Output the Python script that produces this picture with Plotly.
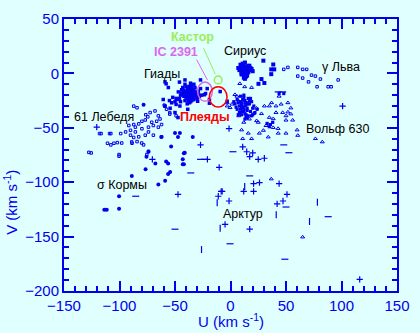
import plotly.graph_objects as go

# ---------------- data (U, V in km/s) ----------------
hyades_u = [-37,-35,-39,-33,-41,-36,-38,-34,-40,-32,-43,-36,-30,-38,-35,-44,-31,-39,-37,-42,
            -34,-36,-40,-33,-29,-45,-38,-35,-41,-37,-32,-46,-36,-39,-34,-43,-31,-37,-40,-35,
            -28,-48,-38,-33,-42,-36,-30,-44,-39,-35,-50,-34,-41,-37,-27,-47,-38,-32,-36,-40,
            -45,-33,-52,-29,-39,-43,-35,-31,-37,-41,-55,-53,-49,-26,-46,-41,-27,
            -59,-56,-60.6,-54.4,-45.6,-38.5,-29.6,-19,-3,-58,-59,-49,-47.3,-50,
            -21,-23.5,-9.3,-22.5,-19]
hyades_v = [-18,-16,-20,-15,-17,-22,-14,-19,-23,-17,-19,-12,-18,-25,-21,-15,-22,-17,-13,-21,
            -24,-16,-18,-20,-16,-20,-22,-11,-25,-19,-13,-23,-26,-15,-20,-14,-19,-23,-12,-17,
            -21,-24,-18,-10,-16,-20,-23,-18,-21,-14,-26,-22,-10,-27,-14,-17,-15,-18,-9,-21,
            -26,-24,-22,-19,-28,-13,-25,-20,-12,-18,-25,-27,-23,-20,-8,-6,-6,
            -7.8,-13,-24,-32,-30,-33,-25.6,-27.4,-25.6,-9.6,-30,-28.5,-40.6,-36,
            -14,-19.6,-16.7,-18.5,-24]

sirius_u = [13,11,15,9,17,12,14,10,16,8,18,13,11,15,12,19,7,14,10,16,13,17,9,12,15,11,20,14,13,10,
            27.9,30.5,36.7,39.4,25.2,38.5,29.6,36.7]
sirius_v = [4,6,2,5,3,8,0,1,7,3,5,-1,9,-2,2,4,5,-3,-1,1,10,7,8,-4,5,3,2,6,-5,0,
            -5.2,-8.8,-0.7,3.7,-9.6,8.2,11.7,3.7]

central_u = [10,13,8,15,12,17,6,11,14,9,19,13,7,16,11,21,4,14,10,18,12,15,8,20,13,11,16,5,9,14,
             22,12,17,10,7,15,13,19,11,24,3,16,9,14,12,18,10,6,20,13,33,36,38,35,43.8,48]
central_v = [-27,-25,-30,-32,-22,-28,-24,-35,-29,-33,-26,-37,-27,-23,-31,-30,-28,-40,-38,-35,
             -20,-34,-36,-32,-42,-24,-39,-31,-21,-27,-36,-33,-25,-29,-38,-41,-30,-39,-35,-33,
             -26,-28,-26,-38,-34,-23,-31,-33,-38,-27,-46,-47,-45,-49,-18.5,-18.5]

tri_u = [8.4,12.8,19,5.8,1.3,-3,7.5,12,20.8,27.9,35,41,47,51.7,50,38.5,32,43.8,37,41,30.5,23.5,
         29.6,38.5,42.9,50,43,10,16,11,19,25,23.5,17,7.5,14.6,60.6,60,76.5,82.7,-3,-0.4,4,45.6,
         50,54.4,54.4,56,51.7,34,26,35,36.7,65]
tri_v = [-9.4,-12.3,-13,-21,-28.3,-30,-39,-45,-37,-37,-30,-36,-36,-35.5,-43,-41.7,-48,-21,-27,-30,
         -30,-43.5,-52.4,-49.8,-50.7,-55,-55,-52,-55,-60,-60,-45,-32,-42,-25.6,-27,-57,-52,-60,-63,
         -27,-31.5,-19.5,-28.3,-39,-37.3,-31.8,-43,-27,-58.5,-55,-40.5,-97,-150.4]

open_u = [-87.2,-84.2,-59.7,-57.6,-54.7,-76.3,-74.5,-72.4,-68,-65,-63.5,-66.5,-71,-76.8,-79.8,-82.7,
          -87.2,-91.6,-85.7,-79.8,-73.9,-69.5,-65,-62.1,-90.1,-94.5,-98.9,-85.7,-73.9,-76.8,-82.7,
          -87.2,-90.1,-107.8,-116.6,-110.8,-107.8,-101.9,-88.7,-84.2,-78.3,-73.9,-75.4,-100.4,-125.5,
          -118,-109,-105,-98,-127.6,-100.4,-89,-80,-69.5,-62,-59.1,-54.7,-49,
          60.6,65,68.6,60.6,65,73,76.5,81,70.3,78,88,90.7,97,51.7,48]
open_v = [-30.1,-31.6,-29.2,-33,-37.4,-38,-39.9,-36,-34.5,-39,-41.9,-44,-44.9,-42.8,-44,-46.4,
          -47,-47.9,-49.4,-50.9,-49.4,-47.9,-49.4,-47,-52.3,-53.8,-55.3,-53.8,-53.8,-56.8,-58.3,
          -58.9,-56.8,-55.3,-55.3,-64.2,-65.7,-63.6,-64.2,-62.7,-65.7,-71.6,-74.6,-74.6,-73.1,
          -55.3,-55.3,-64.2,-64,-72.6,-76.1,-63,-64,-56.8,-58.3,-30.1,-36,-39,
          5.5,3.7,3.7,-2.5,-4.3,-1.6,-2.5,-5.2,-7.8,-12.3,-12.3,-12.3,-6,5.5,3.7]

bold_u = [-78.3,-50,-45.6,-34,-62.4,-53.5,-42,-73.9,-75.7,-56.2,-54.4,-42,-76.5,-88.9,-56.2,
          -47.3,-67.7,-58,-43,-43,-58.9,-65,-100.4,-100.4,-113.7,-41.2,-111.5]
bold_v = [-28.8,-54.8,-54.8,-58.4,-58.4,-67.3,-73.4,-72.1,-76.5,-82.7,-90.7,-83.5,-88,-94.2,-92.4,
          -58.4,-82.7,-81,-79,-83.5,-98.6,-102.2,-112.9,-124.5,-125.4,-72.9,-125.4]

plus_u = [-70.4,-47.3,-27,-20.8,-10.2,11,17.3,11.9,20.8,-11,-8.4,-1.3,-4.9,17.3,20.8,26.1,43.8,
          -7.5,50.9,42,47.3,116.4,101,-1.3,20,25,30.5,14.6,-120.5]
plus_v = [-79,-111.1,-65.7,-79,-86.3,-67.5,-76.5,-108.4,-108.4,-112.9,-108.4,-117.3,-138.7,-143.2,
          -101.3,-100.4,-101.3,-108.4,-111.1,-120,-117.3,-189.4,-30.1,-50.8,-73,-79,-78,-72,-49.4]

dash_u = [-35.8,-27,2.2,17.3,-0.4,-50,50,88,49,48,52.6,-23.5,-85.4,43,47]
dash_v = [-91.5,-79,-72,-94.2,-156.6,-143.2,-122.8,-131.7,-170.8,-65.7,-72.9,-79,-112.9,-17,-17]

vbar_u = [12.8,-12,-9.3,78.3,41.2,71.2,-26.1]
vbar_v = [-104,-119,-142.3,-118.4,-130,-136.1,-161.9]

labels = ["Гиады", "61 Лебедя", "Сириус", "γ Льва", "Вольф 630", "σ Кормы", "Арктур"]
label_u = [-61.5, -113.7, 12.8, 99.6, 96, -97.8, 11]
label_v = [-0.7, -39.9, 20.6, 5.5, -51.4, -102.2, -128.9]

cluster_labels = ["Кастор", "IC 2391", "Плеяды"]
cluster_u = [-34, -49, -22.6]
cluster_v = [33.6, 19.8, -39.9]

x_ticks = [-150, -100, -50, 0, 50, 100, 150]
y_ticks = [-200, -150, -100, -50, 0, 50]

# ---------------- figure ----------------
BLUE = "#0000ee"
BG = "#e0ffff"
GREEN = "#99ee55"
VIOLET = "#dd66ee"
RED = "#ff0000"

fig = go.Figure()

def add(u, v, symbol, size, lw=1, color=BLUE):
    fig.add_trace(go.Scatter(x=u, y=v, mode="markers",
                             marker=dict(symbol=symbol, size=size, color=color,
                                         line=dict(width=lw, color=color)),
                             showlegend=False, hoverinfo="skip"))

add(hyades_u, hyades_v, "square", 3.5, 0)
add(sirius_u, sirius_v, "square", 4, 0)
add(central_u, central_v, "square", 3.2, 0)
add(tri_u, tri_v, "triangle-up-open", 3.5, 1)
add(open_u, open_v, "square-open", 2.5, 1)
add(bold_u, bold_v, "circle", 4, 0)
add(plus_u, plus_v, "cross-thin-open", 4.5, 1.2)
add(dash_u, dash_v, "line-ew-open", 5, 1.2)
add(vbar_u, vbar_v, "line-ns-open", 5, 1.2)

for t, u, v in zip(labels, label_u, label_v):
    fig.add_annotation(x=u, y=v, text=t, showarrow=False, xref="x", yref="y",
                       font=dict(family="Liberation Sans", size=12.5, color="black"))

for t, u, v, c in zip(cluster_labels, cluster_u, cluster_v, [GREEN, VIOLET, RED]):
    fig.add_annotation(x=u, y=v, text="<b>" + t + "</b>", showarrow=False, xref="x", yref="y",
                       font=dict(family="Liberation Sans", size=12.5, color=c))

# cluster markers and leader lines
fig.add_shape(type="circle", xref="x", yref="y", x0=-14.6, x1=-7.6, y0=-9.6, y1=-2.4,
              line=dict(color=GREEN, width=1.5))
fig.add_shape(type="circle", xref="x", yref="y", x0=-29.6, x1=-16.4, y0=-25.6, y1=-7.8,
              line=dict(color=VIOLET, width=1.5))
fig.add_shape(type="circle", xref="x", yref="y", x0=-19.1, x1=-3.1, y0=-30.9, y1=-12.3,
              line=dict(color=RED, width=1.5))
fig.add_shape(type="line", xref="x", yref="y", x0=-24.3, y0=23.3, x1=-13.7, y1=-0.7,
              line=dict(color=GREEN, width=1))
fig.add_shape(type="line", xref="x", yref="y", x0=-30.5, y0=12.6, x1=-20.8, y1=-6,
              line=dict(color=VIOLET, width=1))

axis_common = dict(
    showgrid=False, zeroline=False, showline=True, linecolor=BLUE, linewidth=2,
    mirror="allticks", ticks="inside", ticklen=10, tickwidth=1.5, tickcolor=BLUE,
    tickfont=dict(family="Liberation Sans", size=15, color=BLUE),
    minor=dict(ticks="inside", ticklen=5, tickwidth=1.5, tickcolor=BLUE, dtick=10),
)

fig.update_xaxes(range=[-150, 150], tickvals=x_ticks, **axis_common)
fig.update_yaxes(range=[-200, 50], tickvals=y_ticks, **axis_common)

fig.add_annotation(xref="paper", yref="paper", x=0.5, y=0, yshift=-29, yanchor="middle",
                   xanchor="center", showarrow=False,
                   text="U (km s<sup>-1</sup>)",
                   font=dict(family="Liberation Sans", size=15, color=BLUE))
fig.add_annotation(xref="paper", x=0, xshift=-53, xanchor="center", yref="y", y=-119,
                   yanchor="middle", showarrow=False, textangle=-90,
                   text="V (km s<sup>-1</sup>)",
                   font=dict(family="Liberation Sans", size=15, color=BLUE))

fig.update_layout(width=420, height=333, margin=dict(l=64, r=17, t=10, b=42),
                  paper_bgcolor=BG, plot_bgcolor=BG, showlegend=False)

fig.write_html("out.html")
